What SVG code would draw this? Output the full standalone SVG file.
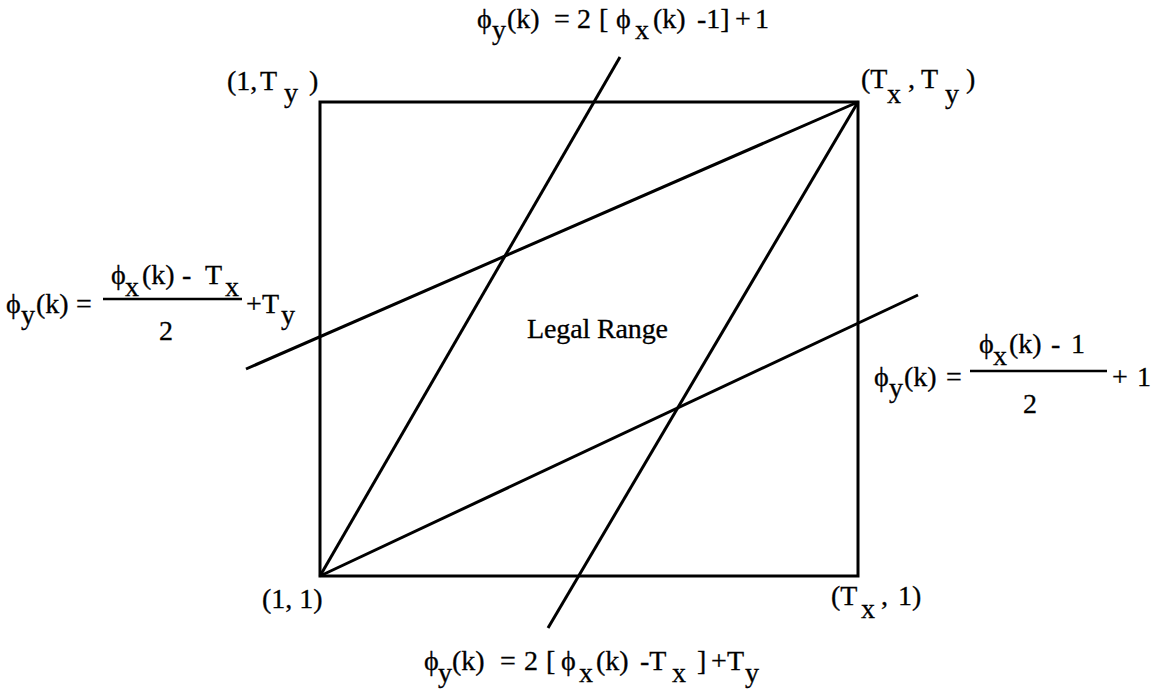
<svg xmlns="http://www.w3.org/2000/svg" width="1155" height="689" viewBox="0 0 1155 689">
<style>
  .t { font-size: 28px; fill: #000; stroke: #000; stroke-width: 0.3; }
  .ln { stroke: #000; stroke-width: 3; fill: none; stroke-linecap: butt; }
  .fr { stroke: #000; stroke-width: 2.5; }
</style>
<rect width="1155" height="689" fill="#fff"/>
<g id="range-box">
  <rect x="320" y="102" width="538" height="474" class="ln"/>
</g>
<g id="connectors">
  <line x1="320" y1="576" x2="620" y2="57" class="ln"/>
  <line x1="320" y1="576" x2="918" y2="295" class="ln"/>
  <line x1="858" y1="102" x2="246" y2="369" class="ln"/>
  <line x1="858" y1="102" x2="548" y2="628" class="ln"/>
</g>
<g font-family="Liberation Serif, Tinos, Times New Roman, Times, DejaVu Serif, serif">
<g id="label-legal">
  <text class="t" x="527" y="338" textLength="141" lengthAdjust="spacing">Legal Range</text>
</g>
<g id="corner-1-Ty">
  <text class="t" y="90"><tspan x="227">(1,</tspan><tspan x="260">T</tspan><tspan x="284" y="102">y</tspan><tspan x="309" y="90">)</tspan></text>
</g>
<g id="corner-Tx-Ty">
  <text class="t" y="88"><tspan x="861">(T</tspan><tspan x="887" y="103">x</tspan><tspan x="908" y="88">,</tspan><tspan x="921">T</tspan><tspan x="945" y="103">y</tspan><tspan x="966" y="88">)</tspan></text>
</g>
<g id="corner-1-1">
  <text class="t" x="262" y="608">(1, 1)</text>
</g>
<g id="corner-Tx-1">
  <text class="t" y="605"><tspan x="831">(T</tspan><tspan x="861" y="618">x</tspan><tspan x="881" y="605">,</tspan><tspan x="898">1)</tspan></text>
</g>
<g id="eq-top">
  <text class="t" y="28"><tspan x="477">ϕ</tspan><tspan x="492" y="39">y</tspan><tspan x="507" y="28">(k)</tspan><tspan x="554">=</tspan><tspan x="577">2</tspan><tspan x="599">[</tspan><tspan x="616">ϕ</tspan><tspan x="635" y="39">x</tspan><tspan x="653" y="28">(k)</tspan><tspan x="697">-1]</tspan><tspan x="735">+</tspan><tspan x="755">1</tspan></text>
</g>
<g id="eq-bottom">
  <text class="t" y="670"><tspan x="424">ϕ</tspan><tspan x="438" y="682">y</tspan><tspan x="452" y="670">(k)</tspan><tspan x="500">=</tspan><tspan x="524">2</tspan><tspan x="546">[</tspan><tspan x="561">ϕ</tspan><tspan x="579" y="682">x</tspan><tspan x="596" y="670">(k)</tspan><tspan x="640">-T</tspan><tspan x="672" y="682">x</tspan><tspan x="697" y="670">]</tspan><tspan x="711">+</tspan><tspan x="727">T</tspan><tspan x="745" y="682">y</tspan></text>
</g>
<g id="eq-left">
  <text class="t" y="313"><tspan x="6">ϕ</tspan><tspan x="21" y="324">y</tspan><tspan x="36" y="313">(k)</tspan><tspan x="76">=</tspan><tspan x="246">+</tspan><tspan x="262">T</tspan><tspan x="281" y="324">y</tspan></text>
  <text class="t" y="284"><tspan x="111">ϕ</tspan><tspan x="125" y="296">x</tspan><tspan x="142" y="284">(k)</tspan><tspan x="182">-</tspan><tspan x="205">T</tspan><tspan x="225" y="296">x</tspan></text>
  <line x1="103" y1="299" x2="242" y2="299" class="fr"/>
  <text class="t" x="159" y="340">2</text>
</g>
<g id="eq-right">
  <text class="t" y="386"><tspan x="874">ϕ</tspan><tspan x="889" y="397">y</tspan><tspan x="904" y="386">(k)</tspan><tspan x="946">=</tspan><tspan x="1112">+</tspan><tspan x="1137">1</tspan></text>
  <text class="t" y="353"><tspan x="979">ϕ</tspan><tspan x="993" y="365">x</tspan><tspan x="1009" y="353">(k)</tspan><tspan x="1051">-</tspan><tspan x="1071">1</tspan></text>
  <line x1="970" y1="371" x2="1107" y2="371" class="fr"/>
  <text class="t" x="1023" y="413">2</text>
</g>
</g>
</svg>
